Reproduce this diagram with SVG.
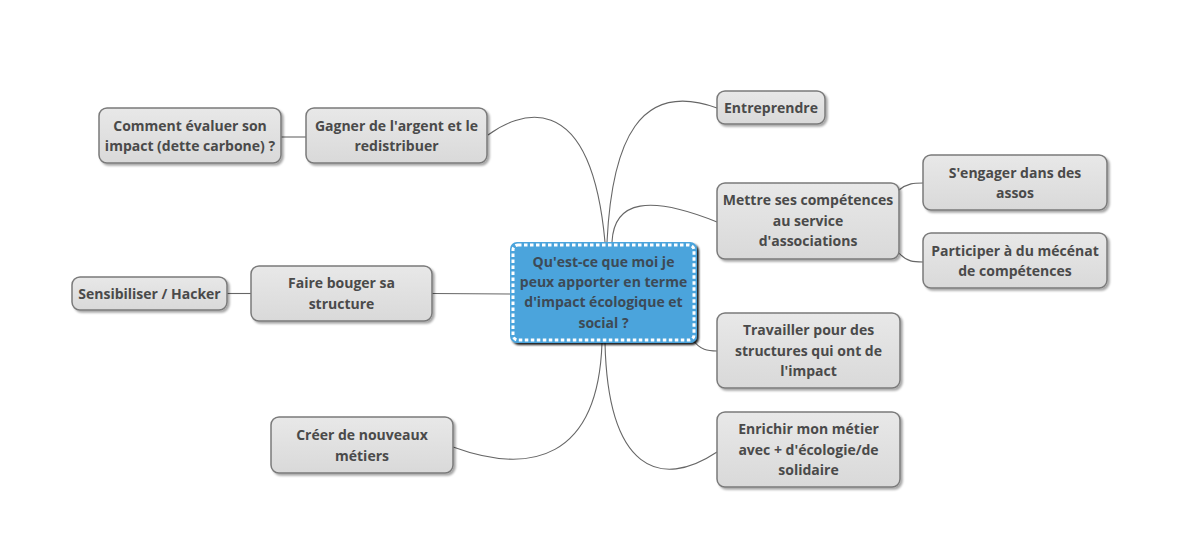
<svg xmlns="http://www.w3.org/2000/svg" width="1200" height="556" viewBox="0 0 1200 556">
<defs>
<linearGradient id="g" x1="0" y1="0" x2="0" y2="1">
<stop offset="0" stop-color="#e8e8e8"/>
<stop offset="1" stop-color="#d9d9d9"/>
</linearGradient>
<filter id="sh" x="-10%" y="-10%" width="130%" height="140%">
<feDropShadow dx="2" dy="2" stdDeviation="1.2" flood-color="#000" flood-opacity="0.35"/>
</filter>
<filter id="shc" x="-10%" y="-10%" width="130%" height="130%">
<feDropShadow dx="2" dy="2" stdDeviation="0.8" flood-color="#000" flood-opacity="0.9"/>
</filter>
</defs>
<style>
.n{fill:url(#g);stroke:#7a7a7a;stroke-width:1.5;filter:url(#sh)}
.t{font-family:"Open Sans","DejaVu Sans",sans-serif;font-weight:700;font-size:14px;fill:#4a4a4a;text-anchor:middle}
.tc{font-family:"Open Sans","DejaVu Sans",sans-serif;font-weight:700;font-size:14px;fill:#3d4a56;text-anchor:middle}
.c{fill:none;stroke:#666;stroke-width:1.1}
</style>
<rect width="1200" height="556" fill="#fff"/>
<g id="connectors">
<path class="c" d="M488,135 C515,115 590,80 605,242"/>
<path class="c" d="M607,242 C612,140 640,80 717,108"/>
<path class="c" d="M612,242 C614,200 650,195 717,222"/>
<path class="c" d="M432,293.5 L510,294"/>
<path class="c" d="M227,293.5 L251,293.5"/>
<path class="c" d="M281,137 L306,137"/>
<path class="c" d="M693,340 C700,350 708,351 717,351"/>
<path class="c" d="M605,343 C608,470 660,490 717,452"/>
<path class="c" d="M602,343 C598,460 530,475 453,447"/>
<path class="c" d="M899,190 C908,183 914,183 923,183"/>
<path class="c" d="M899,253 C907,262 914,262 923,262"/>
</g>
<g id="central">
<rect x="510" y="242" width="187" height="101" rx="7" fill="#4ba4dc" filter="url(#shc)"/>
<rect x="513" y="245" width="181" height="95" rx="5" fill="none" stroke="#fff" stroke-width="3" stroke-dasharray="3.5 2.5"/>
<text class="tc" x="603.5" y="267">Qu'est-ce que moi je</text>
<text class="tc" x="603.5" y="287">peux apporter en terme</text>
<text class="tc" x="603.5" y="307">d'impact écologique et</text>
<text class="tc" x="603.5" y="328">social ?</text>
</g>
<g id="comment">
<rect class="n" x="99" y="108" width="182" height="55" rx="8"/>
<text class="t" x="190" y="130.5">Comment évaluer son</text>
<text class="t" x="190" y="151">impact (dette carbone) ?</text>
</g>
<g id="gagner">
<rect class="n" x="306" y="108" width="181" height="55" rx="8"/>
<text class="t" x="396.5" y="130.5">Gagner de l'argent et le</text>
<text class="t" x="396.5" y="151">redistribuer</text>
</g>
<g id="entreprendre">
<rect class="n" x="717" y="91" width="108" height="33" rx="8"/>
<text class="t" x="771" y="112.5">Entreprendre</text>
</g>
<g id="mettre">
<rect class="n" x="717" y="183" width="182" height="76" rx="8"/>
<text class="t" x="808" y="205">Mettre ses compétences</text>
<text class="t" x="808" y="226">au service</text>
<text class="t" x="808" y="246">d'associations</text>
</g>
<g id="engager">
<rect class="n" x="923" y="155" width="184" height="55" rx="8"/>
<text class="t" x="1015" y="177.5">S'engager dans des</text>
<text class="t" x="1015" y="198">assos</text>
</g>
<g id="participer">
<rect class="n" x="923" y="233" width="184" height="55" rx="8"/>
<text class="t" x="1015" y="255.5">Participer à du mécénat</text>
<text class="t" x="1015" y="276">de compétences</text>
</g>
<g id="faire">
<rect class="n" x="251" y="266" width="181" height="55" rx="8"/>
<text class="t" x="341.5" y="288">Faire bouger sa</text>
<text class="t" x="341.5" y="308.5">structure</text>
</g>
<g id="sensibiliser">
<rect class="n" x="72" y="277" width="155" height="33" rx="8"/>
<text class="t" x="149.5" y="298.5">Sensibiliser / Hacker</text>
</g>
<g id="travailler">
<rect class="n" x="717" y="313" width="183" height="75" rx="8"/>
<text class="t" x="808.5" y="335">Travailler pour des</text>
<text class="t" x="808.5" y="355.5">structures qui ont de</text>
<text class="t" x="808.5" y="376">l'impact</text>
</g>
<g id="creer">
<rect class="n" x="271" y="417" width="182" height="56" rx="8"/>
<text class="t" x="362" y="440">Créer de nouveaux</text>
<text class="t" x="362" y="460.5">métiers</text>
</g>
<g id="enrichir">
<rect class="n" x="717" y="412" width="183" height="75" rx="8"/>
<text class="t" x="808.5" y="434">Enrichir mon métier</text>
<text class="t" x="808.5" y="454.5">avec + d'écologie/de</text>
<text class="t" x="808.5" y="475">solidaire</text>
</g>
</svg>
